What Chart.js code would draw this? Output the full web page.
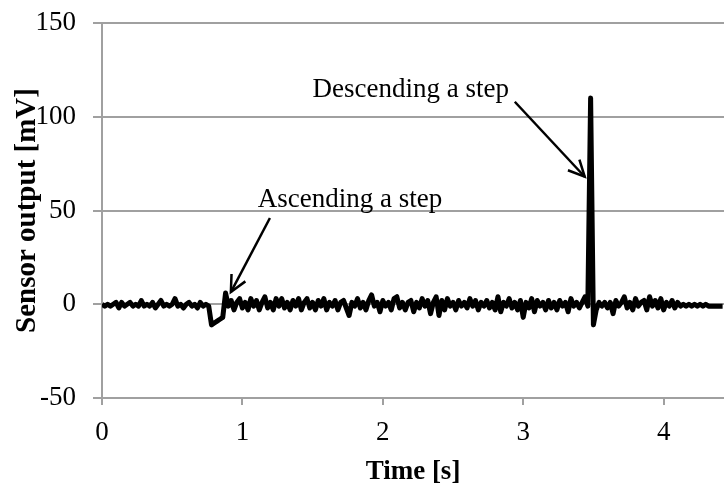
<!DOCTYPE html>
<html>
<head>
<meta charset="utf-8">
<title>Sensor output</title>
<script src="https://cdn.jsdelivr.net/npm/chart.js@4"></script>
<style>
  body { margin: 0; background: #fff; }
  #wrap { width: 724px; height: 494px; }
</style>
</head>
<body>
<div id="wrap"><canvas id="sensorChart" width="724" height="494"></canvas></div>
<script>
// Sampling grid of the recording (seconds)
const startTime = 0;
const sampleStep = 0.02;

// Sensor output in mV, one value per sample
const outputMV = [
    0, -1, 0, -1, 0, 1, -2, 1, -1, 0,
    1, -1, 0, -1, 2, -1, 0, -1, 1, -2,
    0, 2, -1, 0, -1, 0, 3, -1, 0, -2,
    0, 1, -1, 0, -2, 1, -1, 0, -1, -11,
    -10, -9, -8, -7, 6, -1, 2, -3, 1, 3,
    -2, 1, -3, 3, -1, 2, -3, 1, 4, -2,
    1, -3, 3, -1, 3, -2, 1, -3, 2, -1,
    3, -3, 1, 3, -2, 1, -3, 2, -1, 3,
    -3, 1, -1, 2, -3, 1, 2, -2, -6, 1,
    -1, 3, -2, 1, -3, 2, 5, -1, 1, -4,
    2, -1, 1, -3, 3, 4, -2, 1, -3, 1,
    2, -4, 1, -2, 3, -1, 2, -5, 1, 4,
    -6, 2, -3, 3, -1, 1, -3, 2, -1, 1,
    -2, 3, -1, 2, -3, 1, -1, 2, -2, 1,
    -3, 4, -4, 1, -1, 3, -2, 1, -3, 2,
    -7, 1, -2, 3, -4, 2, -1, 1, -3, 2,
    -2, 1, -3, 2, -1, 1, -4, 3, -1, 1,
    -2, 1, 4, -1, 110, -11, -3, 1, -1, 1,
    -2, 1, -5, 2, -1, 1, 4, -2, 1, -3,
    3, -1, 1, 2, -3, 4, -1, 2, -2, 3,
    -3, 1, -1, 2, -2, 1, -1, 0, -1, 0,
    -1, 0, -1, 0, -1, 0, -1, -1, -1, -1, -1, -1
];

// Axis ranges and tick labels
const timeTicks = [0, 1, 2, 3, 4];
const timeMax = 4.43;
const mvTicks = [-50, 0, 50, 100, 150];

// Callouts: text anchor (left, baseline) and arrow from -> tip, in data units
const callouts = [
    { text: 'Ascending a step', at: [1.11, 52], from: [1.196, 46], to: [0.918, 6.5] },
    { text: 'Descending a step', at: [1.50, 110.5], from: [2.94, 108], to: [3.438, 68] }
];

const points = outputMV.map((v, i) => ({ x: startTime + i * sampleStep, y: v }));

const gray = '#a0a0a0';
const serif = "'Liberation Serif', 'Times New Roman', serif";

// draws the callout texts and open arrows
const calloutPlugin = {
    id: 'callouts',
    afterDatasetsDraw(chart) {
        const ctx = chart.ctx;
        const xs = chart.scales.x;
        const ys = chart.scales.y;
        ctx.save();
        ctx.fillStyle = '#000';
        ctx.strokeStyle = '#000';
        ctx.font = '27px ' + serif;
        ctx.textAlign = 'left';
        ctx.textBaseline = 'alphabetic';
        callouts.forEach(c => {
            ctx.fillText(c.text, xs.getPixelForValue(c.at[0]), ys.getPixelForValue(c.at[1]));

            const x1 = xs.getPixelForValue(c.from[0]), y1 = ys.getPixelForValue(c.from[1]);
            const x2 = xs.getPixelForValue(c.to[0]), y2 = ys.getPixelForValue(c.to[1]);
            ctx.lineWidth = 2.5;
            ctx.beginPath();
            ctx.moveTo(x1, y1);
            ctx.lineTo(x2, y2);
            ctx.stroke();

            // open arrow head
            const ang = Math.atan2(y1 - y2, x1 - x2);
            const len = 18, spread = 0.45;
            ctx.beginPath();
            ctx.moveTo(x2 + len * Math.cos(ang - spread), y2 + len * Math.sin(ang - spread));
            ctx.lineTo(x2, y2);
            ctx.lineTo(x2 + len * Math.cos(ang + spread), y2 + len * Math.sin(ang + spread));
            ctx.stroke();
        });
        ctx.restore();
    }
};

new Chart(document.getElementById('sensorChart'), {
    type: 'scatter',
    data: {
        datasets: [{
            data: points,
            showLine: true,
            borderColor: '#000',
            borderWidth: 5,
            borderJoinStyle: 'round',
            pointRadius: 0,
            tension: 0
        }]
    },
    options: {
        responsive: false,
        animation: false,
        devicePixelRatio: 1,
        layout: { padding: { top: 23, right: 0, left: 0, bottom: 0 } },
        plugins: { legend: { display: false }, tooltip: { enabled: false } },
        scales: {
            x: {
                type: 'linear',
                min: 0,
                max: timeMax,
                afterBuildTicks: scale => { scale.ticks = timeTicks.map(v => ({ value: v })); },
                afterFit: scale => {
                    scale.height = 96;
                    scale.paddingLeft = 0;
                    scale.paddingRight = 0;
                },
                grid: { drawOnChartArea: false, color: gray, lineWidth: 2, tickLength: 7 },
                border: { color: gray, width: 2 },
                ticks: { color: '#000', font: { family: serif, size: 27 }, padding: 12, maxRotation: 0 },
                title: {
                    display: true,
                    text: 'Time [s]',
                    color: '#000',
                    font: { family: serif, size: 27, weight: 'bold' },
                    padding: { top: 0, bottom: 6 }
                }
            },
            y: {
                min: -50,
                max: 150,
                afterBuildTicks: scale => { scale.ticks = mvTicks.map(v => ({ value: v })); },
                afterFit: scale => {
                    scale.width = 102;
                    scale.paddingTop = 0;
                    scale.paddingBottom = 0;
                },
                grid: { color: gray, lineWidth: 2, tickLength: 9 },
                border: { color: gray, width: 2 },
                ticks: { color: '#000', font: { family: serif, size: 27 }, padding: 17 },
                title: {
                    display: true,
                    text: 'Sensor output [mV]',
                    color: '#000',
                    font: { family: serif, size: 29, weight: 'bold' },
                    padding: { top: 10, bottom: 0 }
                }
            }
        }
    },
    plugins: [calloutPlugin]
});
</script>
</body>
</html>
